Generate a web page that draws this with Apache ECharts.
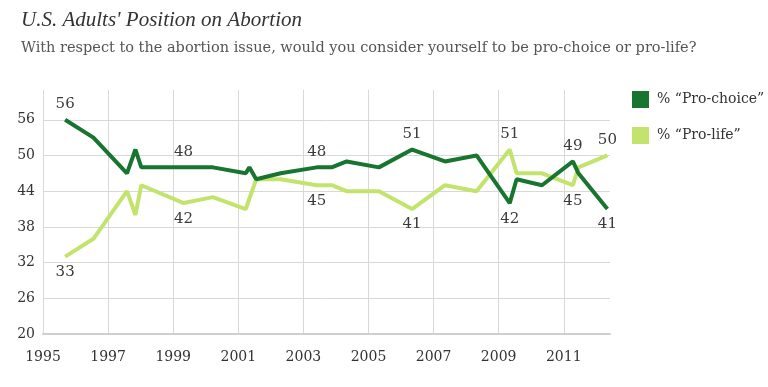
<!DOCTYPE html>
<html>
<head>
<meta charset="utf-8">
<script src="https://cdn.jsdelivr.net/npm/echarts@6/dist/echarts.min.js"></script>
<style>
html,body{margin:0;padding:0;background:#fff;}
#chart{width:768px;height:387px;}
</style>
</head>
<body>
<div id="chart"></div>
<script>
// Survey dates (decimal years)
var dates = [1995.68, 1996.55, 1997.58, 1997.84, 1998.02, 1999.32, 2000.22, 2001.23, 2001.34, 2001.55,
             2002.30, 2003.41, 2003.87, 2004.33, 2005.32, 2006.34, 2007.35, 2008.32, 2009.34, 2009.55,
             2010.33, 2011.28, 2011.45, 2012.34];
var proChoice = [56, 53, 47, 51, 48, 48, 48, 47, 48, 46,
                 47, 48, 48, 49, 48, 51, 49, 50, 42, 46,
                 45, 49, 47, 41];
var proLife = [33, 36, 44, 40, 45, 42, 43, 41, null, 46,
               46, 45, 45, 44, 44, 41, 45, 44, 51, 47,
               47, 45, 48, 50];
var seriesNames = ['% \u201cPro-choice\u201d', '% \u201cPro-life\u201d'];
var yTicks = [20, 26, 32, 38, 44, 50, 56];
var xTicks = [1995, 1997, 1999, 2001, 2003, 2005, 2007, 2009, 2011];

// indices of labelled points
var choiceLabelIdx = [0, 5, 11, 15, 18, 21, 23];
var choiceBelow = [18, 23];
var lifeLabelIdx = [0, 5, 11, 15, 18, 21, 23];
var lifeAbove = [18, 23];

var serif = '"DejaVu Serif", "Liberation Serif", serif';
var labelStyle = {fontFamily: serif, fontSize: 15, color: '#3a3a3a'};

function build(values, labelIdx, flipIdx, defaultPos) {
  return dates.map(function (d, i) {
    var item = {value: [d, values[i]]};
    if (labelIdx.indexOf(i) >= 0) {
      var pos = flipIdx.indexOf(i) >= 0 ? (defaultPos === 'top' ? 'bottom' : 'top') : defaultPos;
      item.label = Object.assign({show: true, position: pos, distance: 8,
        formatter: String(values[i])}, labelStyle);
    }
    return item;
  });
}

var chart = echarts.init(document.getElementById('chart'), null, {renderer: 'canvas'});
chart.setOption({
  animation: false,
  backgroundColor: '#fff',
  title: [
    {text: "U.S. Adults' Position on Abortion", left: 16, top: 5,
     textStyle: {fontFamily: '"Liberation Serif", serif', fontStyle: 'italic', fontWeight: 'normal', fontSize: 21, color: '#333'}},
    {text: 'With respect to the abortion issue, would you consider yourself to be pro-choice or pro-life?', left: 16, top: 36,
     textStyle: {fontFamily: serif, fontWeight: 'normal', fontSize: 14.5, color: '#555'}}
  ],
  legend: {
    orient: 'vertical', left: 627, top: 86, itemWidth: 17, itemHeight: 17, itemGap: 19,
    icon: 'rect',
    textStyle: {fontFamily: serif, fontSize: 14, color: '#333', padding: [0, 0, 0, 3]},
    data: seriesNames
  },
  grid: {left: 43, right: 158, top: 90, bottom: 53, containLabel: false},
  xAxis: {
    type: 'value', min: 1995, max: 2012.42, interval: 2,
    axisLine: {show: true, lineStyle: {color: '#cfcfcf', width: 2}},
    axisTick: {show: false},
    splitLine: {show: true, showMaxLine: false, lineStyle: {color: '#d8d8d8', width: 1}},
    axisLabel: {showMaxLabel: false, margin: 16, fontFamily: serif, fontSize: 14, color: '#333',
      formatter: function (v) { return xTicks.indexOf(v) >= 0 ? String(v) : ''; }}
  },
  yAxis: {
    type: 'value', min: 20, max: 61, interval: 6,
    axisLine: {show: false}, axisTick: {show: false},
    splitLine: {show: true, showMaxLine: false, lineStyle: {color: '#d8d8d8', width: 1}},
    axisLabel: {showMaxLabel: false, margin: 8, fontFamily: serif, fontSize: 14, color: '#333',
      formatter: function (v) { return yTicks.indexOf(v) >= 0 ? String(v) : ''; }}
  },
  series: [
    {name: seriesNames[0], type: 'line', data: build(proChoice, choiceLabelIdx, choiceBelow, 'top'),
     showSymbol: true, symbol: 'circle', symbolSize: 0.1, connectNulls: true, z: 3,
     lineStyle: {color: '#17752f', width: 4}, itemStyle: {color: '#17752f'}},
    {name: seriesNames[1], type: 'line', data: build(proLife, lifeLabelIdx, lifeAbove, 'bottom'),
     showSymbol: true, symbol: 'circle', symbolSize: 0.1, connectNulls: true, z: 2,
     lineStyle: {color: '#c3e46c', width: 4}, itemStyle: {color: '#c3e46c'}}
  ]
});
</script>
</body>
</html>
